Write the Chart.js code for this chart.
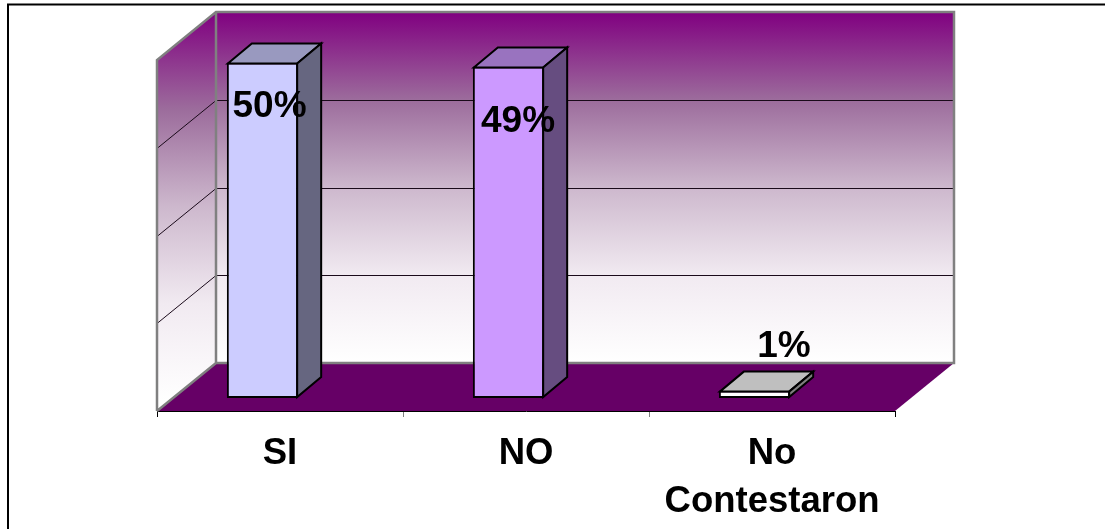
<!DOCTYPE html>
<html>
<head>
<meta charset="utf-8">
<title>Encuesta</title>
<script src="https://cdn.jsdelivr.net/npm/chart.js@4"></script>
<style>
  html, body { margin: 0; padding: 0; background: #fff; overflow: hidden; }
  canvas { display: block; }
</style>
</head>
<body>
<canvas id="encuestaChart" width="1105" height="529"></canvas>
<script>
const categories = ['SI', 'NO', ['No', 'Contestaron']];
const percentValues = [50, 49.4, 1.1];
const valueLabels = ['50%', '49%', '1%'];
const axisMax = 52.3;
const axisStep = 13.075;

const frontColors = ['#CCCCFF', '#CC99FF', '#FFFFFF'];
const topColors = ['#9999BF', '#9973BF', '#BFBFBF'];
const sideColors = ['#666680', '#664D80', '#808080'];

// depth of the floor, and how far the bars sit back on it
const WALL_DX = 59, WALL_DY = -48;
const BAR_SHIFT_X = -17.5, BAR_SHIFT_Y = -13;
const BAR_DX = 24, BAR_DY = -20;
// label nudges from the top centre of each bar, as placed by hand in the original
const labelNudges = [[-10.5, 41.3], [-8, 53], [12, -46.6]];

function polygon(ctx, pts, fill, stroke, lineWidth) {
  ctx.beginPath();
  pts.forEach((p, i) => i ? ctx.lineTo(p[0], p[1]) : ctx.moveTo(p[0], p[1]));
  ctx.closePath();
  if (fill) { ctx.fillStyle = fill; ctx.fill(); }
  if (stroke) { ctx.strokeStyle = stroke; ctx.lineWidth = lineWidth; ctx.stroke(); }
}

function wallGradient(ctx, y0, y1) {
  const g = ctx.createLinearGradient(0, y0, 0, y1);
  g.addColorStop(0, '#800080');
  g.addColorStop(0.25, '#9C6C9C');
  g.addColorStop(0.5, '#CDB8CD');
  g.addColorStop(0.75, '#F1EAF1');
  g.addColorStop(1, '#FFFFFF');
  return g;
}

const wallsAndBars = {
  id: 'wallsAndBars',
  beforeDraw(chart) {
    const ctx = chart.ctx;
    ctx.save();
    ctx.fillStyle = '#fff';
    ctx.fillRect(0, 0, chart.width, chart.height);
    ctx.strokeStyle = '#000';
    ctx.lineWidth = 2;
    ctx.strokeRect(8, 4.5, chart.width + 50, chart.height + 50);
    ctx.restore();
  },
  beforeDatasetsDraw(chart) {
    const ctx = chart.ctx;
    const { left, right, top, bottom } = chart.chartArea;
    const backLeft = left + WALL_DX, backRight = right + WALL_DX;
    const backTop = top + WALL_DY, backBottom = bottom + WALL_DY;

    ctx.save();
    polygon(ctx, [[left, top], [backLeft, backTop], [backLeft, backBottom], [left, bottom]],
      wallGradient(ctx, backTop, bottom - 10), null);
    polygon(ctx, [[backLeft, backTop], [backRight, backTop], [backRight, backBottom], [backLeft, backBottom]],
      wallGradient(ctx, backTop, backBottom), null);
    polygon(ctx, [[left, bottom], [backLeft, backBottom], [backRight, backBottom], [right, bottom]], '#660066', null);

    // gridlines run along the left wall and then the back wall
    ctx.strokeStyle = '#1a0a1a';
    ctx.lineWidth = 1;
    chart.scales.y.ticks.forEach(t => {
      if (t.value <= 0 || t.value >= axisMax) return;
      const y = Math.round(chart.scales.y.getPixelForValue(t.value)) + 0.5;
      ctx.beginPath();
      ctx.moveTo(left, y);
      ctx.lineTo(backLeft, y + WALL_DY);
      ctx.lineTo(backRight, y + WALL_DY);
      ctx.stroke();
    });

    // wall edges
    ctx.strokeStyle = '#808080';
    ctx.lineWidth = 2.5;
    ctx.lineJoin = 'miter';
    ctx.beginPath();
    ctx.moveTo(left, bottom);
    ctx.lineTo(left, top);
    ctx.lineTo(backLeft, backTop);
    ctx.lineTo(backRight, backTop);
    ctx.lineTo(backRight, backBottom);
    ctx.lineTo(backLeft, backBottom);
    ctx.lineTo(left, bottom);
    ctx.moveTo(backLeft, backTop);
    ctx.lineTo(backLeft, backBottom);
    ctx.stroke();
    ctx.restore();

    // native bars get drawn shifted back onto the floor
    ctx.save();
    ctx.translate(BAR_SHIFT_X, BAR_SHIFT_Y);
  },
  afterDatasetsDraw(chart) {
    const ctx = chart.ctx;
    const bars = chart.getDatasetMeta(0).data;
    ctx.lineJoin = 'miter';
    bars.forEach((bar, i) => {
      // the native border sits inside the bar, so follow its centre line
      const l = bar.x - bar.width / 2 + 1, r = bar.x + bar.width / 2 - 1;
      const t = bar.y + 1, b = bar.base - 1;
      polygon(ctx, [[l, t], [l + BAR_DX, t + BAR_DY], [r + BAR_DX, t + BAR_DY], [r, t]],
        topColors[i], '#000', 2);
      polygon(ctx, [[r, t], [r + BAR_DX, t + BAR_DY], [r + BAR_DX, b + BAR_DY], [r, b]],
        sideColors[i], '#000', 2);
    });
    ctx.restore();

    ctx.save();
    ctx.fillStyle = '#000';
    ctx.font = 'bold 37px "Liberation Sans", Arial, sans-serif';
    ctx.textAlign = 'center';
    ctx.textBaseline = 'alphabetic';
    bars.forEach((bar, i) => {
      ctx.fillText(valueLabels[i], bar.x + labelNudges[i][0], bar.y + labelNudges[i][1]);
    });
    ctx.restore();
  }
};

new Chart(document.getElementById('encuestaChart'), {
  type: 'bar',
  data: {
    labels: categories,
    datasets: [{
      data: percentValues,
      backgroundColor: frontColors,
      borderColor: '#000',
      borderWidth: 2,
      borderSkipped: false,
      categoryPercentage: 1,
      barPercentage: 0.29,
      clip: false
    }]
  },
  options: {
    responsive: false,
    animation: false,
    layout: { padding: { left: 157, right: 210, top: 60, bottom: 0 } },
    plugins: { legend: { display: false }, tooltip: { enabled: false } },
    scales: {
      y: {
        display: false,
        min: 0,
        max: axisMax,
        ticks: { stepSize: axisStep }
      },
      x: {
        afterFit(scale) { scale.height = 118; },
        border: { color: '#000', width: 1 },
        grid: {
          drawOnChartArea: false,
          tickLength: 6,
          color: c => (c.index === 1 || c.index === 2) ? '#808080' : '#000'
        },
        ticks: {
          color: '#000',
          maxRotation: 0,
          autoSkip: false,
          padding: 13,
          font: { family: '"Liberation Sans", Arial, sans-serif', size: 36.5, weight: 'bold', lineHeight: 1.315 }
        }
      }
    }
  },
  plugins: [wallsAndBars]
});
</script>
</body>
</html>
